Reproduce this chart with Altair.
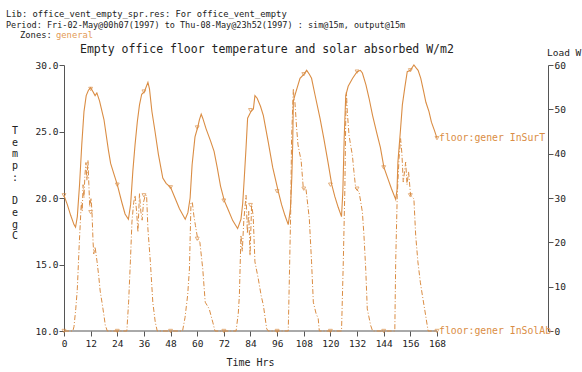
import altair as alt
import pandas as pd

# ---------------- data ----------------
temp_t = [0, 1.5, 3, 4.5, 5.2, 6, 7, 8, 9, 10, 11, 12, 13, 14, 14.8, 16, 18, 20, 21, 22.5, 24,
          26, 27.5, 29, 30, 31, 32, 33, 34, 35, 36.2, 37.8, 38.5, 39.6, 41, 42.5, 44.5, 46, 48,
          50, 52, 54.6, 55.8, 56.8, 57.7, 59, 60.2, 61, 61.8, 62.5, 64, 66, 67.6, 69, 70.5, 72.2,
          74, 76, 78.2, 79.7, 80.5, 81.2, 82, 82.7, 84.2, 85.3, 86, 87, 88.5, 89.8, 92, 94, 96.5,
          98, 99.5, 101, 102, 102.6, 103, 103.3, 104.5, 106.3, 108, 109.3, 110.5, 111.5, 113,
          115.3, 117, 119, 120.6, 122, 123.5, 125, 125.6, 126.2, 126.9, 128, 130, 132, 133.5,
          134.4, 136, 137.4, 139, 141, 142.5, 144.1, 146, 147.5, 149.4, 150, 150.4, 151.5, 152.4,
          153.5, 154.6, 156, 157.6, 158.5, 159.5, 160.7, 162, 163, 164.4, 165.5, 166.8, 168]
temp_v = [20.2, 19.5, 18.7, 18.0, 17.8, 18.6, 21.0, 24.0, 26.5, 27.7, 28.1, 28.3, 28.0, 27.7, 27.9,
          27.3, 25.9, 23.6, 22.6, 21.8, 21.0,
          19.7, 18.8, 18.4, 19.5, 22.0, 24.0, 25.7, 27.0, 27.8, 28.0, 28.7, 28.2, 26.5, 25.0, 23.3,
          21.5, 21.1, 20.8,
          20.0, 19.2, 18.4, 18.9, 20.0, 22.5, 24.6, 25.3, 25.9, 26.3, 26.0, 25.2, 24.3, 23.5, 22.3,
          20.9, 19.8,
          19.1, 18.3, 17.7, 18.4, 19.6, 21.5, 23.8, 26.0, 26.5, 26.7, 27.7, 27.5, 26.9, 26.2, 24.2,
          22.3, 20.5,
          19.5, 18.7, 18.0, 19.2, 21.5, 24.0, 27.3, 28.0, 29.0, 29.3, 29.6, 29.3, 29.0, 27.8,
          26.0, 24.5, 22.6, 21.0, 20.1, 19.3, 18.6, 20.5, 24.5, 27.7, 28.4, 29.0, 29.5, 29.6,
          29.4, 28.5, 27.5, 26.2, 24.8, 23.8, 22.3, 21.4, 20.7, 19.9, 20.6, 22.7, 25.0, 27.0,
          28.3, 29.5, 29.6, 30.0, 29.8, 29.6, 29.0, 28.0, 27.2, 26.5, 25.7, 25.1, 24.5]

sol_t = [0, 4, 4.5, 5.3, 6, 6.9, 7.4, 7.8, 8.2, 8.6, 9, 9.4, 9.9, 10.3, 10.8, 11.2, 11.6, 12.2,
         12.6, 13.1, 13.4, 14, 14.9, 15.6, 16.3, 17.1, 18, 18.6, 19.5,
         28.3, 29.1, 29.9, 30.6, 31.4, 32, 32.7, 33.3, 34, 34.6, 35.2, 35.8, 36.6, 37.2, 37.8,
         38.9, 40, 41.1, 42,
         53.4, 54.5, 55.7, 56.5, 57.2, 57.8, 58.5, 59.2, 60.2, 61.2, 62.5, 63.6, 65.4, 67, 68,
         77.5, 78.5, 79, 79.7, 80.3, 81, 82, 82.6, 83.2, 83.8, 84.5, 85.2, 86, 87.5, 88.8, 89.8,
         91.3, 92,
         101, 101.5, 102.1, 102.5, 103.3, 103.7, 104, 104.8, 105.4, 106, 106.8, 107.8, 109,
         110.5, 111.5, 112.3, 113.5, 114.5, 115,
         125, 125.8, 126.5, 126.9, 127.2, 127.6, 128.4, 129.1, 129.9, 130.6, 131.4, 132.9,
         134.4, 135.1, 135.9, 136.6, 138.1, 139,
         149, 149.4, 150.1, 150.9, 151.6, 152.2, 152.8, 153.4, 153.9, 154.5, 155.2, 156.1,
         157.6, 158.4, 159.4, 160.5, 161.4, 162.9, 164, 168]
sol_v = [0, 0, 1, 5, 9.5, 20, 25, 29, 27, 33, 30, 35, 38, 34, 38.5, 33, 28, 30,
         26.8, 20, 17.4, 19, 15.6, 12.6, 9, 6.5, 3.5, 1.3, 0,
         0, 6.5, 15.6, 24.6, 29, 30.6, 27, 22.3, 31, 27, 25, 29, 30.6, 30.6, 23,
         15.6, 6.5, 2, 0,
         0, 3, 8.1, 14, 29, 29, 26, 23.8, 20.8, 20, 14, 6.5, 5, 2, 0,
         0, 4, 8.1, 21.6, 18, 25, 30.6, 22, 27, 17, 28.4, 26, 15.6, 11.8, 8, 5.8,
         0.5, 0,
         0, 11.8, 26.8, 43.4, 54.7, 52, 51.7, 45.6, 42, 40.4, 38.5, 32.1, 32,
         25.3, 15.6, 6.5, 4, 2.8, 0,
         0, 15.6, 32, 48, 53.9, 49.4, 44.1, 41.9, 39.6, 35.9, 32.1, 31.4,
         26.8, 21.6, 14, 5, 1.3, 0,
         0, 15.6, 30.6, 38.9, 43.4, 40, 33.6, 36, 38.1, 33, 35.9, 30.6,
         29.8, 21.6, 15.6, 11, 8.1, 3.5, 0, 0]

mark_t = [0, 12, 24, 36, 48, 60, 72, 84, 96, 108, 120, 132, 144, 156, 168]
temp_mark_v = [20.2, 28.2, 21.0, 28.0, 20.8, 25.3, 19.8, 26.6, 20.5, 29.3, 21.0, 29.5, 22.3, 29.6, 24.5]
sol_mark_v = [0, 26.8, 0, 30.6, 0, 20.8, 0, 28.4, 0, 32.1, 0, 32.1, 0, 30.6, 0]

x_ticks = [0, 12, 24, 36, 48, 60, 72, 84, 96, 108, 120, 132, 144, 156, 168]
temp_ticks = [10, 15, 20, 25, 30]
load_ticks = [0, 10, 20, 30, 40, 50, 60]

series_labels = ["floor:gener InSurT", "floor:gener InSolAb"]
header_lines = ["Lib: office_vent_empty_spr.res: For office_vent_empty",
                "Period: Fri-02-May@00h07(1997) to Thu-08-May@23h52(1997) : sim@15m, output@15m"]
zone_label = "Zones:"
zone_name = "general"
chart_title = "Empty office floor temperature and solar absorbed W/m2"
right_title = "Load W"
x_title = "Time Hrs"
left_title_top = ["T", "e", "m", "p", ":"]
left_title_bottom = ["D", "e", "g", "C"]

# ---------------- styling ----------------
ORANGE = "#da8d44"
LIGHT_ORANGE = "#e39a55"
FONT = "DejaVu Sans Mono"
AXIS_COL = "#555555"
TXT_COL = "#222222"

temp_df = pd.DataFrame({"t": temp_t, "v": temp_v})
sol_df = pd.DataFrame({"t": sol_t, "v": sol_v})
tmark_df = pd.DataFrame({"t": mark_t, "v": temp_mark_v})
smark_df = pd.DataFrame({"t": mark_t, "v": sol_mark_v})
tlab_df = pd.DataFrame({"t": [168], "v": [temp_v[-1]], "lab": [series_labels[0]]})
slab_df = pd.DataFrame({"t": [168], "v": [sol_v[-1]], "lab": [series_labels[1]]})
rule_df = pd.DataFrame({"t": [0], "t2": [168]})
one = pd.DataFrame({"a": [0]})

xscale = alt.Scale(domain=[0, 218], nice=False, zero=False)
xaxis = alt.Axis(values=x_ticks, domain=False, grid=False, tickSize=5, tickColor=AXIS_COL,
                 labelFont=FONT, labelFontSize=9.5, labelColor=TXT_COL, labelPadding=2,
                 title=x_title, titleFont=FONT, titleFontSize=10, titleFontWeight="normal",
                 titleColor=TXT_COL, titleX=186, titleY=31, titleBaseline="middle",
                 titleAlign="center", labelFlush=False)
X = alt.X("t:Q", scale=xscale, axis=xaxis)

tscale = alt.Scale(domain=[10, 30], nice=False, zero=False)
taxis = alt.Axis(orient="left", values=temp_ticks, format=".1f", grid=False, domainColor=AXIS_COL,
                 tickColor=AXIS_COL, tickSize=5, labelFont=FONT, labelFontSize=9.5,
                 labelColor=TXT_COL, labelPadding=1, title=None, labelFlush=False)
TY = alt.Y("v:Q", scale=tscale, axis=taxis)

sscale = alt.Scale(domain=[0, 60], nice=False, zero=False)
saxis = alt.Axis(orient="right", values=load_ticks, format="d", grid=False, domainColor=AXIS_COL,
                 tickColor=AXIS_COL, tickSize=5, labelFont=FONT, labelFontSize=9.5,
                 labelColor=TXT_COL, labelPadding=1, title=None, labelFlush=False)
SY = alt.Y("v:Q", scale=sscale, axis=saxis)

temp_line = alt.Chart(temp_df).mark_line(color=ORANGE, strokeWidth=1.1).encode(x=X, y=TY)
temp_pts = alt.Chart(tmark_df).mark_point(shape="triangle-down", color=ORANGE, size=15,
                                          strokeWidth=1, filled=False).encode(x=X, y=TY)
temp_lab = alt.Chart(tlab_df).mark_text(align="left", baseline="middle", dx=2, font=FONT,
                                        fontSize=9.8, color=ORANGE).encode(x=X, y=TY, text="lab:N")
axis_rule = alt.Chart(rule_df).mark_rule(color=AXIS_COL, strokeWidth=1).encode(
    x=X, x2="t2:Q", y=alt.value(266))
temp_group = alt.layer(temp_line, temp_pts, temp_lab, axis_rule)

sol_line = alt.Chart(sol_df).mark_line(color=ORANGE, strokeWidth=1, strokeDash=[5, 2, 1, 2]).encode(x=X, y=SY)
sol_pts = alt.Chart(smark_df).mark_point(shape="triangle-down", color=ORANGE, size=15,
                                         strokeWidth=1, filled=False).encode(x=X, y=SY)
sol_lab = alt.Chart(slab_df).mark_text(align="left", baseline="middle", dx=2, font=FONT,
                                       fontSize=9.8, color=ORANGE).encode(x=X, y=SY, text="lab:N")
sol_group = alt.layer(sol_line, sol_pts, sol_lab)


def txt(s, x, y, size=8.8, color=TXT_COL, align="left", baseline="middle", lh=None):
    kw = dict(align=align, baseline=baseline, font=FONT, fontSize=size, color=color)
    if lh is not None:
        kw["lineHeight"] = lh
    return alt.Chart(one).mark_text(**kw).encode(x=alt.value(x), y=alt.value(y),
                                                 text=alt.value(s))


texts = [
    txt(header_lines[0], -58, -51),
    txt(header_lines[1], -58, -40, size=8.5),
    txt(zone_label, -44, -30),
    txt(zone_name, -8, -30, color=LIGHT_ORANGE),
    txt(chart_title, 16, -15, size=11.5),
    txt(right_title, 483, -12, size=9.5),
    txt(left_title_top, -49, 61, size=10, align="center", baseline="top", lh=11.7),
    txt(left_title_bottom, -49, 61 + 6 * 11.7, size=10, align="center", baseline="top", lh=11.7),
]

chart = alt.layer(temp_group, sol_group, *texts).resolve_scale(y="independent").properties(
    width=484, height=266,
    autosize=alt.AutoSizeParams(type="none"),
    padding={"left": 64, "top": 65, "right": 34, "bottom": 41},
    background="white",
).configure_view(strokeWidth=0)

chart.save("out.html", embed_options={"renderer": "svg", "actions": False})
